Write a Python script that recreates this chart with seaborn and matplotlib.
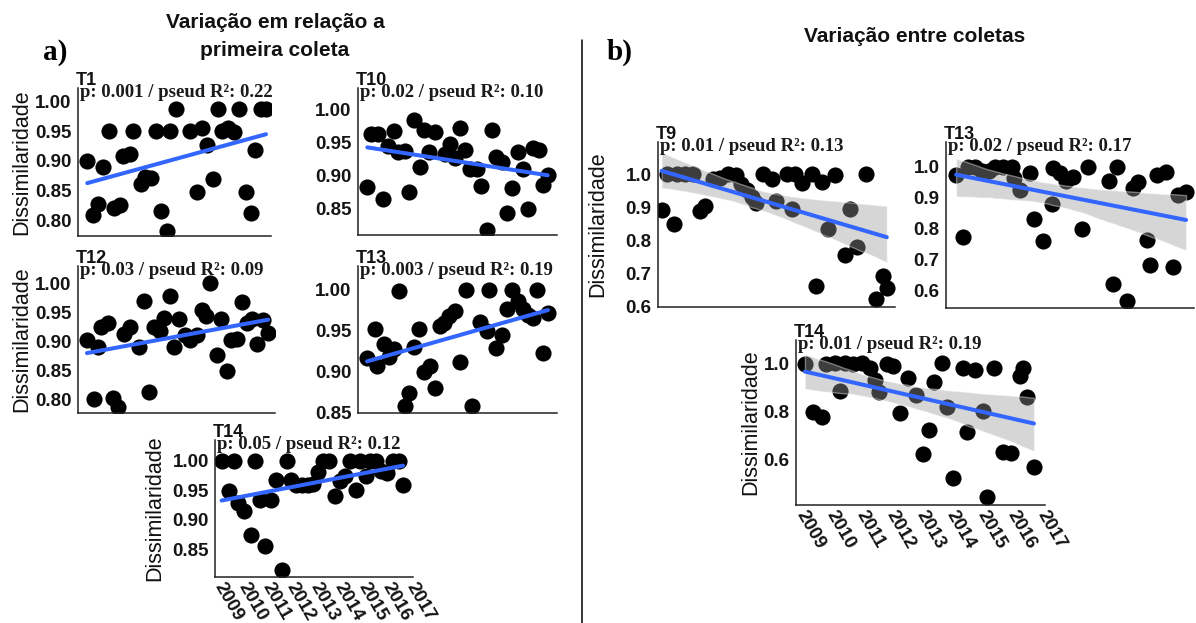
import matplotlib
matplotlib.use("Agg")
import matplotlib.pyplot as plt
import matplotlib.transforms as mtransforms
from matplotlib.lines import Line2D
import numpy as np
import pandas as pd
import seaborn as sns

# ---------------- data ----------------
years = [2009, 2010, 2011, 2012, 2013, 2014, 2015, 2016, 2017]

t1_year = [2009.27, 2009.51, 2009.72, 2009.96, 2010.19, 2010.40, 2010.67, 2010.81, 2011.09, 2011.24,
           2011.55, 2011.74, 2011.98, 2012.19, 2012.43, 2012.68, 2012.82, 2013.08, 2013.67, 2013.98,
           2014.19, 2014.40, 2014.63, 2014.84, 2015.04, 2015.29, 2015.53, 2015.74, 2016.04, 2016.25,
           2016.42, 2016.70, 2016.91]
t1_dis = [0.900, 0.808, 0.827, 0.890, 0.950, 0.820, 0.826, 0.908, 0.912, 0.950,
          0.860, 0.873, 0.871, 0.950, 0.816, 0.782, 0.950, 0.987, 0.950, 0.848,
          0.955, 0.926, 0.869, 0.987, 0.950, 0.955, 0.949, 0.987, 0.848, 0.812,
          0.918, 0.987, 0.987]

t10_year = [2009.26, 2009.43, 2009.71, 2009.92, 2010.12, 2010.37, 2010.54, 2010.82, 2011.00, 2011.20,
            2011.44, 2011.62, 2011.83, 2012.06, 2012.48, 2012.69, 2012.90, 2013.10, 2013.31, 2013.52,
            2013.80, 2013.96, 2014.21, 2014.42, 2014.60, 2014.84, 2015.04, 2015.25, 2015.49, 2015.70,
            2015.92, 2016.15, 2016.36, 2016.54, 2016.74]
t10_dis = [0.883, 0.963, 0.962, 0.865, 0.944, 0.967, 0.936, 0.937, 0.875, 0.984,
           0.913, 0.969, 0.936, 0.966, 0.933, 0.947, 0.926, 0.971, 0.938, 0.910,
           0.910, 0.884, 0.817, 0.968, 0.928, 0.920, 0.843, 0.881, 0.936, 0.910,
           0.850, 0.942, 0.938, 0.885, 0.900]

t12_year = [2009.25, 2009.53, 2009.71, 2009.85, 2010.13, 2010.34, 2010.55, 2010.79, 2011.04, 2011.42,
            2011.63, 2011.85, 2012.05, 2012.30, 2012.48, 2012.72, 2012.89, 2013.11, 2013.35, 2013.56,
            2013.84, 2014.05, 2014.23, 2014.40, 2014.68, 2014.85, 2015.10, 2015.28, 2015.54, 2015.75,
            2015.96, 2016.17, 2016.38, 2016.61, 2016.84]
t12_dis = [0.902, 0.800, 0.890, 0.924, 0.931, 0.802, 0.787, 0.913, 0.924, 0.890,
           0.970, 0.813, 0.924, 0.918, 0.941, 0.978, 0.890, 0.938, 0.911, 0.902,
           0.911, 0.954, 0.944, 1.000, 0.876, 0.938, 0.848, 0.902, 0.903, 0.967,
           0.932, 0.938, 0.895, 0.936, 0.914]

t13a_year = [2009.25, 2009.57, 2009.68, 2009.96, 2010.16, 2010.37, 2010.58, 2010.82, 2011.00, 2011.19,
             2011.41, 2011.62, 2011.86, 2012.06, 2012.27, 2012.44, 2012.65, 2012.90, 2013.10, 2013.35,
             2013.59, 2013.94, 2014.21, 2014.32, 2014.60, 2014.84, 2015.04, 2015.25, 2015.50, 2015.70,
             2015.92, 2016.15, 2016.29, 2016.54, 2016.75]
t13a_dis = [0.916, 0.952, 0.907, 0.933, 0.918, 0.927, 0.999, 0.857, 0.874, 0.930,
            0.952, 0.899, 0.906, 0.880, 0.956, 0.959, 0.968, 0.974, 0.912, 1.000,
            0.857, 0.961, 0.949, 1.000, 0.929, 0.944, 0.976, 1.000, 0.986, 0.976,
            0.969, 0.965, 1.000, 0.923, 0.972]

t14a_year = [2009.15, 2009.47, 2009.67, 2009.85, 2010.10, 2010.36, 2010.54, 2010.75, 2010.96, 2011.20,
             2011.41, 2011.65, 2011.86, 2012.06, 2012.27, 2012.52, 2012.76, 2012.97, 2013.17, 2013.38,
             2013.63, 2013.89, 2014.10, 2014.31, 2014.52, 2014.73, 2014.91, 2015.16, 2015.35, 2015.60,
             2015.81, 2016.04, 2016.29, 2016.54, 2016.71]
t14a_dis = [1.000, 0.949, 1.000, 0.929, 0.914, 0.874, 1.000, 0.933, 0.856, 0.933,
            0.968, 0.815, 1.000, 0.967, 0.959, 0.959, 0.959, 0.961, 0.980, 1.000,
            1.000, 0.940, 0.966, 0.974, 1.000, 0.950, 1.000, 0.974, 1.000, 1.000,
            0.983, 0.979, 1.000, 1.000, 0.959]

t9_year = [2009.00, 2009.18, 2009.43, 2009.53, 2009.82, 2010.08, 2010.34, 2010.51, 2010.78, 2011.03,
           2011.32, 2011.59, 2011.75, 2011.98, 2012.14, 2012.29, 2012.54, 2012.83, 2012.98, 2013.35,
           2013.53, 2013.64, 2013.88, 2014.22, 2014.36, 2014.57, 2014.80, 2015.04, 2015.38, 2015.56,
           2015.79, 2016.12, 2016.46, 2016.72, 2016.84]
t9_dis = [0.891, 1.000, 0.848, 1.000, 1.000, 1.000, 0.889, 0.903, 0.984, 0.987,
          1.000, 0.997, 0.970, 0.952, 0.929, 0.911, 1.000, 0.984, 0.919, 1.000,
          0.893, 1.000, 0.974, 1.000, 0.662, 0.977, 0.832, 0.997, 0.755, 0.893,
          0.778, 1.000, 0.620, 0.691, 0.655]

t13b_year = [2009.21, 2009.45, 2009.62, 2009.84, 2010.06, 2010.32, 2010.51, 2010.78, 2011.06, 2011.14,
             2011.34, 2011.67, 2011.80, 2012.11, 2012.39, 2012.45, 2012.67, 2012.87, 2013.11, 2013.39,
             2013.61, 2014.31, 2014.44, 2014.57, 2014.91, 2015.09, 2015.27, 2015.55, 2015.66, 2015.88,
             2016.19, 2016.44, 2016.60, 2016.86]
t13b_dis = [0.973, 0.771, 1.000, 1.000, 0.987, 0.987, 1.000, 1.000, 1.000, 0.962,
            0.924, 0.981, 0.829, 0.760, 0.879, 0.995, 0.978, 0.955, 0.966, 0.797,
            1.000, 0.955, 0.619, 1.000, 0.565, 0.930, 0.951, 0.762, 0.681, 0.973,
            0.984, 0.674, 0.908, 0.919]

t14b_year = [2009.17, 2009.43, 2009.73, 2009.87, 2010.33, 2010.17, 2010.50, 2010.77, 2011.05, 2011.33,
             2011.49, 2011.63, 2011.88, 2012.10, 2012.32, 2012.60, 2012.85, 2013.07, 2013.29, 2013.45,
             2013.70, 2013.89, 2014.09, 2014.40, 2014.53, 2014.81, 2015.06, 2015.19, 2015.44, 2015.74,
             2015.99, 2016.30, 2016.39, 2016.54, 2016.76]
t14b_dis = [0.996, 0.800, 0.779, 0.996, 0.885, 1.000, 1.000, 0.996, 1.000, 0.982,
            0.931, 0.883, 0.996, 0.990, 0.793, 0.941, 0.869, 0.623, 0.724, 0.924,
            1.000, 0.820, 0.527, 0.981, 0.717, 0.972, 0.803, 0.448, 0.979, 0.632,
            0.628, 0.949, 0.979, 0.862, 0.572]

stats = {
    "T1": "p: 0.001 / pseud R²: 0.22",
    "T10": "p: 0.02 / pseud R²: 0.10",
    "T12": "p: 0.03 / pseud R²: 0.09",
    "T13a": "p: 0.003 / pseud R²: 0.19",
    "T14a": "p: 0.05 / pseud R²: 0.12",
    "T9": "p: 0.01 / pseud R²: 0.13",
    "T13b": "p: 0.02 / pseud R²: 0.17",
    "T14b": "p: 0.01 / pseud R²: 0.19",
}

# ---------------- figure ----------------
sns.set_theme(style="white")
plt.rcParams["font.family"] = ["Liberation Sans", "DejaVu Sans"]

W, H = 1196, 623
fig = plt.figure(figsize=(W / 100, H / 100), dpi=100)
fig.patch.set_facecolor("white")


def rect(x0, x1, yt, yb):
    return [x0 / W, 1 - yb / H, (x1 - x0) / W, (yb - yt) / H]


def px(dx, dy):
    return mtransforms.ScaledTranslation(dx / 100, dy / 100, fig.dpi_scale_trans)


def panel(box, title, x, y, stat, ylim, yticks, fmt, band, ylab_x=None, xlabels=False):
    ax = fig.add_axes(rect(*box))
    df = pd.DataFrame({"Ano": x, "Dissimilaridade": y})
    sns.regplot(data=df, x="Ano", y="Dissimilaridade", ax=ax,
                ci=95 if band else None, n_boot=1000, seed=3, color="black",
                scatter_kws=dict(s=135, alpha=1, linewidths=0, zorder=2),
                line_kws=dict(color="#3366FF", lw=2.9, zorder=4))
    if band:
        poly = ax.collections[-1]
        poly.set_facecolor("#999999")
        poly.set_alpha(0.4)
        poly.set_zorder(3)
    ax.set_xlim(2008.875, 2017.125)
    ax.set_ylim(*ylim)
    ax.set_yticks(yticks)
    ax.set_yticklabels([fmt.format(v) for v in yticks], fontsize=13.5,
                       fontweight="bold", color="#151515")
    ax.set_xticks(years)
    if xlabels:
        ax.set_xticklabels([str(v) for v in years], rotation=-60, ha="left", va="center",
                           rotation_mode="anchor", fontsize=13.5, fontweight="bold",
                           color="#151515")
    else:
        ax.set_xticklabels([])
    ax.tick_params(axis="both", length=2.5, width=0.8, color="#333333", pad=2)
    ax.set_xlabel("")
    sns.despine(ax=ax)
    for s in ("left", "bottom"):
        ax.spines[s].set_color("#222222")
        ax.spines[s].set_linewidth(1.1)
    ax.set_facecolor("white")
    width_px = box[1] - box[0]
    if ylab_x is not None:
        ax.set_ylabel("Dissimilaridade", fontsize=15.5, color="#111111")
        ax.yaxis.label.set_verticalalignment("center")
        ax.yaxis.set_label_coords((ylab_x - box[0]) / width_px, 0.5)
    else:
        ax.set_ylabel("")
    ax.text(0, 1, title, transform=ax.transAxes + px(-2, 3), ha="left", va="baseline",
            fontsize=13, fontweight="bold", color="#111111", zorder=6)
    ax.text(0, 1, stat, transform=ax.transAxes + px(2, -9), ha="left", va="baseline",
            family=["Liberation Serif", "DejaVu Serif"], fontsize=13.5, fontweight="bold",
            color="#1a1a1a", zorder=6)
    return ax


t_a2 = [0.80, 0.85, 0.90, 0.95, 1.00]
t_a4 = [0.85, 0.90, 0.95, 1.00]

panel((78, 271, 88, 236), "T1", t1_year, t1_dis, stats["T1"], (0.773, 1.023), t_a2, "{:.2f}",
      False, ylab_x=22)
panel((358, 557, 88, 235), "T10", t10_year, t10_dis, stats["T10"], (0.81, 1.032), t_a4, "{:.2f}",
      False)
panel((78, 275, 266, 413), "T12", t12_year, t12_dis, stats["T12"], (0.776, 1.030), t_a2, "{:.2f}",
      False, ylab_x=22)
panel((358, 557, 266, 413), "T13", t13a_year, t13a_dis, stats["T13a"], (0.849, 1.029), t_a4,
      "{:.2f}", False)
panel((215, 413, 440, 577), "T14", t14a_year, t14a_dis, stats["T14a"], (0.803, 1.035), t_a4,
      "{:.2f}", False, ylab_x=155, xlabels=True)

panel((658, 895, 142, 307), "T9", t9_year, t9_dis, stats["T9"], (0.597, 1.097),
      [0.6, 0.7, 0.8, 0.9, 1.0], "{:.1f}", True, ylab_x=598)
panel((946, 1194, 142, 308), "T13", t13b_year, t13b_dis, stats["T13b"], (0.542, 1.080),
      [0.6, 0.7, 0.8, 0.9, 1.0], "{:.1f}", True)
panel((796, 1045, 340, 505), "T14", t14b_year, t14b_dis, stats["T14b"], (0.414, 1.096),
      [0.6, 0.8, 1.0], "{:.1f}", True, ylab_x=751, xlabels=True)

# headings
fig.text(275 / W, 1 - 22 / H, "Variação em relação a", ha="center", va="center",
         fontsize=15, fontweight="bold", color="#111111")
fig.text(275 / W, 1 - 50 / H, "primeira coleta", ha="center", va="center",
         fontsize=15, fontweight="bold", color="#111111")
fig.text(915 / W, 1 - 37 / H, "Variação entre coletas", ha="center", va="center",
         fontsize=15, fontweight="bold", color="#111111")
fig.text(55 / W, 1 - 52 / H, "a)", ha="center", va="center", family="Liberation Serif",
         fontsize=21, fontweight="bold", color="black")
fig.text(620 / W, 1 - 52 / H, "b)", ha="center", va="center", family="Liberation Serif",
         fontsize=21, fontweight="bold", color="black")

# divider
fig.add_artist(Line2D([582 / W, 582 / W], [1 - 40 / H, 0], transform=fig.transFigure,
                      color="black", lw=1.1))

fig.savefig("out.png", dpi=100, facecolor="white")
